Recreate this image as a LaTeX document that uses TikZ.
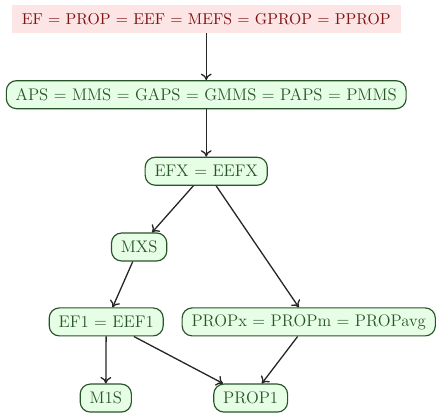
\documentclass[tikz,border=0pt]{standalone}
\usepackage{amsmath}
\usepackage{tikz}
\usepackage{xcolor}
\usetikzlibrary{arrows.meta,positioning}
\definecolor{softpink}{RGB}{253,229,229}
\definecolor{darkred}{RGB}{128,20,20}
\definecolor{softgreen}{RGB}{230,253,230}
\definecolor{darkgreen}{RGB}{40,85,40}

\tikzset{
  notion/.style={draw=darkgreen, thick, rounded corners=7pt, fill=softgreen, text=darkgreen,
    minimum height=0.68cm, inner xsep=6.5pt, font=\fontsize{11.6}{14}\selectfont},
  topnotion/.style={fill=softpink, text=darkred, minimum height=0.68cm, inner xsep=7pt,
    font=\fontsize{10.9}{13}\selectfont},
  imp/.style={-{To[length=4.5pt,width=7.5pt]}, line width=0.9pt, black!85}
}

\begin{document}
\begin{tikzpicture}
  \useasboundingbox (0,0) rectangle (10.64,-10.16);
  \node[topnotion] (top) at (5.01,-0.46) {EF = PROP = EEF = MEFS = GPROP = PPROP};
  \node[notion] (aps) at (5.01,-2.30) {APS = MMS = GAPS = GMMS = PAPS = PMMS};
  \node[notion] (efx) at (5.01,-4.16) {EFX = EEFX};
  \node[notion] (mxs) at (3.38,-6.00) {MXS};
  \node[notion] (efone) at (2.58,-7.82) {EF1 = EEF1};
  \node[notion] (propx) at (7.50,-7.82) {PROPx = PROPm = PROPavg};
  \node[notion] (mones) at (2.57,-9.67) {M1S};
  \node[notion] (propone) at (6.09,-9.67) {PROP1};

  \draw[imp] (top) -- (aps);
  \draw[imp] (aps) -- (efx);
  \draw[imp] (efx) -- (mxs);
  \draw[imp] (efx) -- (propx);
  \draw[imp] (mxs) -- (efone);
  \draw[imp] (efone) -- (mones);
  \draw[imp] (efone) -- (propone);
  \draw[imp] (propx) -- (propone);
\end{tikzpicture}
\end{document}
